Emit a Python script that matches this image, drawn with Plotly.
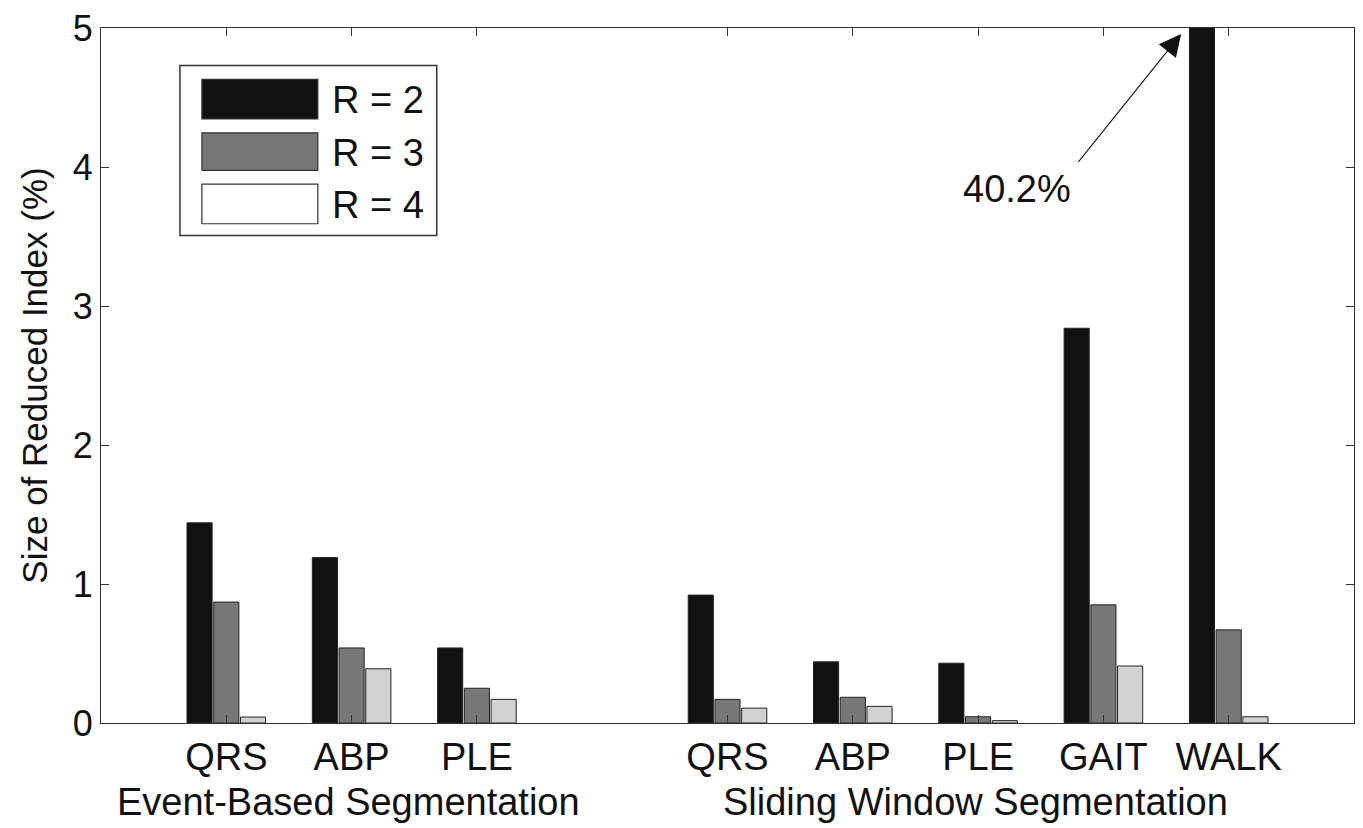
import plotly.graph_objects as go

# ---- data ----
categories = ["QRS", "ABP", "PLE", "QRS", "ABP", "PLE", "GAIT", "WALK"]
positions = [1, 2, 3, 5, 6, 7, 8, 9]
r2_values = [1.44, 1.19, 0.54, 0.92, 0.44, 0.43, 2.84, 40.2]
r3_values = [0.87, 0.54, 0.25, 0.17, 0.185, 0.045, 0.85, 0.67]
r4_values = [0.043, 0.39, 0.17, 0.107, 0.12, 0.017, 0.41, 0.045]
series_names = ["R = 2", "R = 3", "R = 4"]
group_labels = ["Event-Based Segmentation", "Sliding Window Segmentation"]
y_ticks = [0, 1, 2, 3, 4, 5]

bar_colors = ["#111111", "#777777", "#d2d2d2"]
legend_colors = ["#111111", "#777777", "#ffffff"]
FONT = "Liberation Sans, Arial, sans-serif"
FS = 38

W, H = 1363, 828
L, R, T, B = 101, 8, 20, 105
pw, ph = W - L - R, H - T - B


def px(xp):
    return (xp - L) / pw


def py(yp):
    return 1 - (yp - T) / ph


fig = go.Figure()
for name, vals, col in zip(series_names, [r2_values, r3_values, r4_values], bar_colors):
    fig.add_trace(go.Bar(
        x=positions, y=vals, name=name,
        marker=dict(color=col, line=dict(color="#222222", width=1)),
        showlegend=False,
    ))

axis_common = dict(
    showline=True, linecolor="#333333", linewidth=1.2, mirror="ticks",
    ticks="inside", ticklen=8, tickcolor="#333333", showgrid=False, zeroline=False,
    ticklabeloverflow="allow",
)

fig.update_layout(
    width=W, height=H,
    margin=dict(l=L, r=R, t=T, b=B, pad=0),
    paper_bgcolor="white", plot_bgcolor="white",
    barmode="group", bargap=0.36, bargroupgap=0.06,
    font=dict(family=FONT, color="#111111"),
    xaxis=dict(range=[0, 10], tickvals=positions, ticktext=categories,
               tickfont=dict(family=FONT, size=FS, color="#111111"), **axis_common),
    yaxis=dict(range=[0, 5], tickvals=y_ticks,
               tickfont=dict(family=FONT, size=36, color="#111111"), **axis_common,
               title=dict(text="Size of Reduced Index (%)", standoff=14,
                          font=dict(family=FONT, size=35, color="#111111"))),
)

# group labels under x-axis
for txt, xc in zip(group_labels, [349, 976]):
    fig.add_annotation(x=px(xc), y=py(803), xref="paper", yref="paper",
                       text=txt, showarrow=False, xanchor="center", yanchor="middle",
                       font=dict(family=FONT, size=FS, color="#111111"))

# custom legend
fig.add_shape(type="rect", xref="paper", yref="paper",
              x0=px(180), x1=px(437), y0=py(230), y1=py(58),
              line=dict(color="#333333", width=1.5), fillcolor="white")
rows = [(72, 112), (126, 164), (178, 218)]
for (y0, y1), col, name in zip(rows, legend_colors, series_names):
    fig.add_shape(type="rect", xref="paper", yref="paper",
                  x0=px(202), x1=px(318), y0=py(y1), y1=py(y0),
                  line=dict(color="#333333", width=1.2), fillcolor=col)
    fig.add_annotation(x=px(330), y=py((y0 + y1) / 2 + 1), xref="paper", yref="paper",
                       text=name, showarrow=False, xanchor="left", yanchor="middle",
                       font=dict(family=FONT, size=FS, color="#111111"))

# arrow annotation for the clipped WALK bar
fig.add_annotation(x=px(1182), y=py(26), xref="x domain", yref="y domain",
                   ax=px(1078), ay=py(157), axref="x domain", ayref="y domain",
                   text="", showarrow=True, arrowhead=2, arrowsize=4,
                   arrowwidth=1.1, arrowcolor="#111111")
fig.add_annotation(x=px(1018), y=py(183), xref="paper", yref="paper",
                   text=f"{r2_values[-1]}%", showarrow=False,
                   xanchor="center", yanchor="middle",
                   font=dict(family=FONT, size=FS, color="#111111"))

fig.write_html("out.html")
